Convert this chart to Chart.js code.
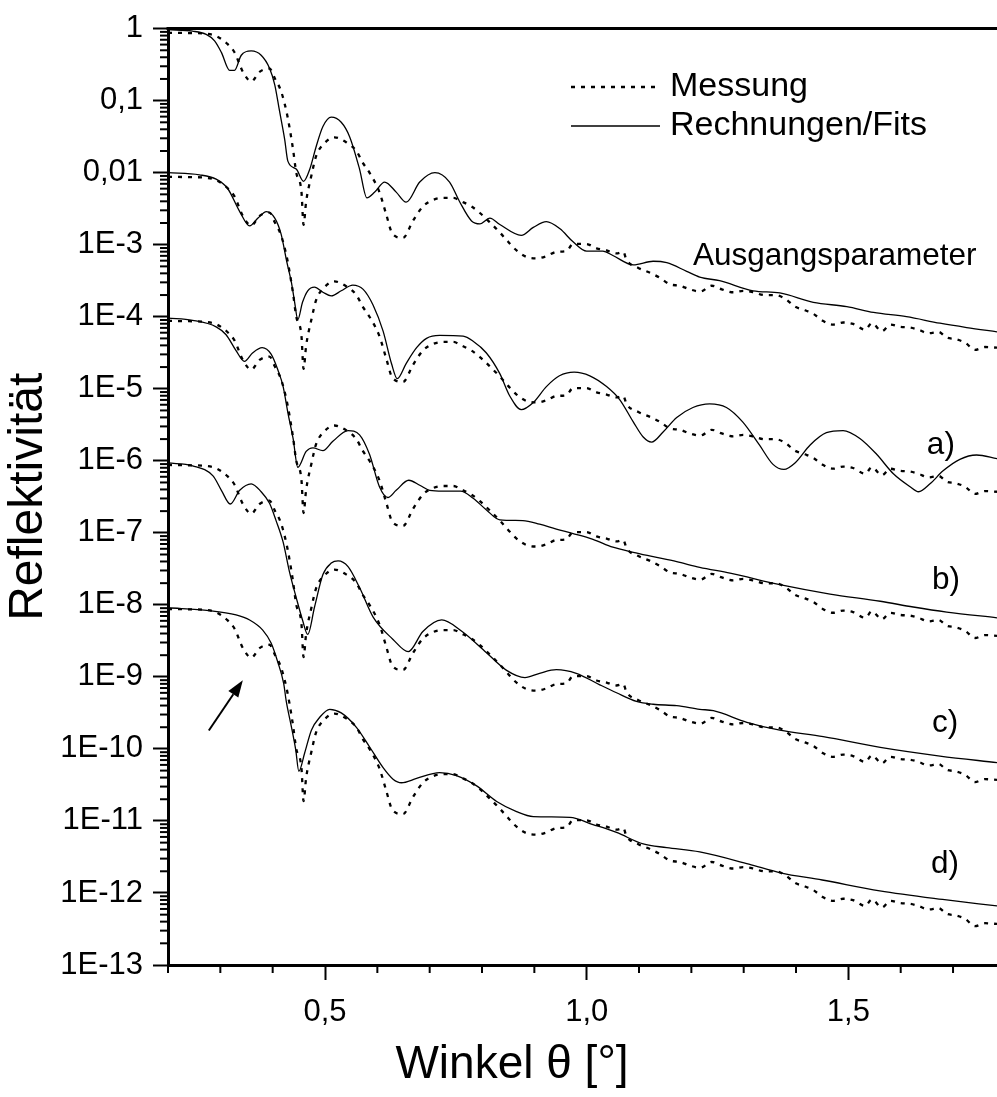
<!DOCTYPE html>
<html><head><meta charset="utf-8">
<script src="https://cdn.jsdelivr.net/npm/chart.js@4/dist/chart.umd.min.js"></script>
<style>html,body{margin:0;padding:0;background:#fff}canvas{display:block}</style>
</head><body>
<canvas id="c" width="997" height="1097"></canvas>
<script>
const FONT = "'Liberation Sans', Arial, Helvetica, sans-serif";

// ---- axis ticks ----
const xTickValues = [0.2,0.3,0.4,0.5,0.6,0.7,0.8,0.9,1.0,1.1,1.2,1.3,1.4,1.5,1.6,1.7];
const xMajorValues = [0.5,1.0,1.5];
const xMajorLabels = ['0,5','1,0','1,5'];
const yDecades = [1,1e-1,1e-2,1e-3,1e-4,1e-5,1e-6,1e-7,1e-8,1e-9,1e-10,1e-11,1e-12,1e-13];
const yTickLabels = ['1','0,1','0,01','1E-3','1E-4','1E-5','1E-6','1E-7','1E-8','1E-9','1E-10','1E-11','1E-12','1E-13'];
const xTitle = 'Winkel θ [°]';
const yTitle = 'Reflektivität';

// ---- Messung (measured data), log10 of reflectivity, top curve ----
const measTheta = [0.200,0.240,0.267,0.292,0.314,0.327,0.343,0.359,0.375,0.394,0.404,0.416,0.426,0.432,0.439,0.445,0.455,0.459,0.464,0.474,0.483,0.499,0.518,0.541,0.560,0.572,0.585,0.604,0.617,0.629,0.649,0.668,0.687,0.706,0.725,0.745,0.761,0.780,0.796,0.815,0.834,0.850,0.866,0.885,0.904,0.923,0.942,0.961,0.974,0.999,1.019,1.038,1.057,1.070,1.076,1.098,1.121,1.140,1.159,1.178,1.197,1.217,1.239,1.258,1.280,1.299,1.318,1.340,1.360,1.379,1.398,1.417,1.433,1.452,1.471,1.490,1.509,1.532,1.545,1.564,1.580,1.599,1.618,1.634,1.653,1.672,1.688,1.704,1.723,1.742,1.761,1.784];
const measLog = [-0.058,-0.062,-0.068,-0.104,-0.216,-0.329,-0.599,-0.734,-0.600,-0.554,-0.689,-0.869,-1.139,-1.365,-1.680,-1.996,-2.266,-2.725,-2.400,-2.040,-1.770,-1.590,-1.510,-1.580,-1.700,-1.860,-2.000,-2.270,-2.580,-2.850,-2.905,-2.670,-2.470,-2.380,-2.350,-2.350,-2.400,-2.470,-2.560,-2.690,-2.830,-2.960,-3.080,-3.170,-3.190,-3.160,-3.100,-3.090,-2.990,-2.990,-3.050,-3.080,-3.120,-3.100,-3.210,-3.320,-3.390,-3.460,-3.550,-3.570,-3.620,-3.650,-3.570,-3.620,-3.660,-3.640,-3.660,-3.700,-3.700,-3.750,-3.860,-3.910,-3.960,-4.060,-4.110,-4.080,-4.100,-4.180,-4.090,-4.200,-4.110,-4.140,-4.150,-4.180,-4.230,-4.210,-4.290,-4.310,-4.360,-4.460,-4.420,-4.430];
// vertical shift factors of the five curve pairs
const pairOffsets = [1, 1e-2, 1e-4, 1e-6, 1e-8];

// ---- Rechnungen/Fits, log10 of reflectivity ----
const fitAusgTheta = [0.200,0.247,0.273,0.289,0.302,0.318,0.327,0.340,0.359,0.378,0.394,0.404,0.413,0.423,0.429,0.445,0.459,0.471,0.483,0.496,0.512,0.531,0.547,0.566,0.580,0.595,0.614,0.636,0.655,0.681,0.710,0.738,0.757,0.780,0.796,0.815,0.834,0.875,0.898,0.923,0.949,0.974,1.000,1.031,1.050,1.089,1.127,1.153,1.191,1.216,1.254,1.318,1.369,1.433,1.497,1.548,1.611,1.675,1.726,1.784];
const fitAusgLog = [-0.014,-0.036,-0.081,-0.170,-0.330,-0.580,-0.580,-0.370,-0.310,-0.370,-0.550,-0.780,-1.140,-1.540,-1.840,-1.950,-2.120,-1.950,-1.640,-1.360,-1.230,-1.300,-1.500,-1.950,-2.350,-2.270,-2.130,-2.270,-2.410,-2.130,-2.000,-2.130,-2.400,-2.670,-2.710,-2.630,-2.720,-2.870,-2.760,-2.680,-2.780,-2.960,-3.090,-3.090,-3.150,-3.280,-3.230,-3.250,-3.370,-3.450,-3.500,-3.640,-3.670,-3.800,-3.860,-3.940,-4.000,-4.090,-4.150,-4.210];

const fitATheta = [0.200,0.260,0.292,0.314,0.337,0.356,0.372,0.388,0.404,0.416,0.427,0.436,0.442,0.448,0.457,0.467,0.480,0.496,0.512,0.531,0.553,0.573,0.592,0.611,0.627,0.638,0.655,0.675,0.694,0.719,0.764,0.783,0.808,0.834,0.853,0.875,0.898,0.923,0.948,0.976,1.006,1.038,1.063,1.089,1.108,1.124,1.146,1.172,1.203,1.235,1.267,1.298,1.330,1.356,1.377,1.398,1.427,1.458,1.490,1.522,1.554,1.586,1.618,1.634,1.656,1.681,1.713,1.745,1.784];
const fitALog = [-2.000,-2.030,-2.090,-2.220,-2.540,-2.740,-2.630,-2.540,-2.630,-2.850,-3.240,-3.530,-3.800,-4.040,-3.800,-3.640,-3.590,-3.660,-3.710,-3.640,-3.560,-3.620,-3.840,-4.200,-4.650,-4.860,-4.650,-4.430,-4.300,-4.260,-4.270,-4.340,-4.500,-4.790,-5.100,-5.290,-5.190,-4.970,-4.820,-4.770,-4.820,-4.970,-5.150,-5.460,-5.670,-5.740,-5.600,-5.400,-5.260,-5.210,-5.260,-5.460,-5.780,-6.050,-6.120,-6.030,-5.780,-5.610,-5.580,-5.690,-5.910,-6.180,-6.360,-6.430,-6.320,-6.140,-5.980,-5.920,-5.970];

const fitBTheta = [0.200,0.247,0.292,0.311,0.330,0.346,0.362,0.380,0.397,0.410,0.420,0.429,0.439,0.448,0.464,0.477,0.496,0.515,0.544,0.566,0.585,0.604,0.620,0.636,0.660,0.681,0.700,0.725,0.759,0.783,0.808,0.834,0.878,0.910,0.942,0.974,1.012,1.050,1.089,1.127,1.172,1.216,1.274,1.369,1.465,1.561,1.624,1.688,1.784];
const fitBLog = [-4.020,-4.050,-4.140,-4.250,-4.470,-4.620,-4.500,-4.430,-4.520,-4.740,-4.970,-5.330,-5.690,-6.090,-5.870,-5.820,-5.860,-5.730,-5.580,-5.640,-5.910,-6.360,-6.510,-6.410,-6.270,-6.340,-6.410,-6.420,-6.420,-6.520,-6.680,-6.820,-6.830,-6.880,-6.950,-7.010,-7.090,-7.200,-7.270,-7.330,-7.400,-7.480,-7.560,-7.720,-7.850,-7.950,-8.030,-8.100,-8.180];

const fitCTheta = [0.200,0.247,0.286,0.302,0.319,0.337,0.359,0.378,0.394,0.406,0.420,0.432,0.445,0.457,0.467,0.480,0.496,0.512,0.525,0.544,0.566,0.592,0.630,0.659,0.687,0.723,0.760,0.808,0.847,0.882,0.910,0.942,0.980,1.025,1.057,1.095,1.127,1.172,1.216,1.242,1.306,1.369,1.452,1.561,1.675,1.784];
const fitCLog = [-6.030,-6.070,-6.210,-6.410,-6.600,-6.410,-6.320,-6.430,-6.590,-6.820,-7.130,-7.540,-7.900,-8.210,-8.410,-8.030,-7.580,-7.420,-7.390,-7.470,-7.760,-8.170,-8.480,-8.650,-8.370,-8.210,-8.360,-8.660,-8.910,-9.010,-8.950,-8.900,-8.950,-9.110,-9.220,-9.340,-9.380,-9.400,-9.450,-9.470,-9.630,-9.740,-9.830,-9.980,-10.100,-10.190];

const fitDTheta = [0.200,0.279,0.330,0.356,0.381,0.397,0.410,0.421,0.426,0.436,0.444,0.450,0.461,0.474,0.490,0.509,0.531,0.560,0.585,0.611,0.630,0.646,0.675,0.719,0.751,0.789,0.828,0.866,0.898,0.968,1.012,1.057,1.108,1.153,1.216,1.310,1.370,1.450,1.560,1.680,1.784];
const fitDLog = [-8.040,-8.080,-8.140,-8.210,-8.350,-8.530,-8.800,-9.090,-9.340,-9.700,-10.010,-10.310,-10.060,-9.740,-9.560,-9.450,-9.500,-9.700,-9.970,-10.260,-10.420,-10.470,-10.410,-10.330,-10.370,-10.510,-10.730,-10.870,-10.940,-10.950,-11.050,-11.160,-11.320,-11.370,-11.430,-11.600,-11.720,-11.820,-11.970,-12.090,-12.180];

// ---- text annotations (data coordinates) ----
const annoText  = ['Ausgangsparameter','a)','b)','c)','d)'];
const annoTheta = [1.203, 1.650, 1.660, 1.660, 1.658];
const annoValue = [7.0e-4, 1.65e-6, 2.2e-8, 2.3e-10, 2.5e-12];
const arrowFrom = {x:0.278, y:1.8e-10};
const arrowTo   = {x:0.343, y:9.0e-10};

const legendLabels = ['Messung','Rechnungen/Fits'];

// ---------------------------------------------------------------
const toPts = (xs, logs, f=1) => xs.map((x,i)=>({x, y: Math.pow(10, logs[i]) * f}));
const fits = [[fitAusgTheta,fitAusgLog],[fitATheta,fitALog],[fitBTheta,fitBLog],[fitCTheta,fitCLog],[fitDTheta,fitDLog]];

const DOT = [4,6];
const datasets = [];
pairOffsets.forEach((off,i)=>{
  datasets.push({label: legendLabels[0], data: toPts(measTheta, measLog, off), borderColor:'#000', borderWidth:2.3, borderDash:DOT, pointRadius:0, fill:false, cubicInterpolationMode:'monotone'});
  datasets.push({label: legendLabels[1], data: toPts(fits[i][0], fits[i][1]), borderColor:'#000', borderWidth:1.3, pointRadius:0, fill:false, cubicInterpolationMode:'monotone'});
});

const yTickValues = [];
yDecades.forEach(d=>{ yTickValues.push(d); if (d < 1) for (let k=2;k<=9;k++) yTickValues.push(k*d); });
yTickValues.sort((a,b)=>a-b);

const isDecade = v => { const l = Math.log10(v); return Math.abs(l - Math.round(l)) < 1e-6; };
const isXMajor = v => xMajorValues.some(m => Math.abs(m - v) < 1e-6);

const decor = {
  id:'decor',
  afterDraw(chart){
    const {ctx, chartArea:ca, scales:{x,y}} = chart;
    ctx.save();
    ctx.strokeStyle = '#000'; ctx.fillStyle = '#000';
    // top frame line
    ctx.lineWidth = 3;
    ctx.beginPath(); ctx.moveTo(ca.left-1.5, ca.top); ctx.lineTo(ca.right, ca.top); ctx.stroke();
    // minor ticks
    ctx.lineWidth = 2;
    x.ticks.forEach(t=>{ if(!isXMajor(t.value)){ const px = x.getPixelForValue(t.value);
      ctx.beginPath(); ctx.moveTo(px, ca.bottom); ctx.lineTo(px, ca.bottom+8); ctx.stroke(); }});
    y.ticks.forEach(t=>{ if(!isDecade(t.value)){ const py = y.getPixelForValue(t.value);
      ctx.beginPath(); ctx.moveTo(ca.left-8, py); ctx.lineTo(ca.left, py); ctx.stroke(); }});
    // x axis title
    ctx.font = '46px ' + FONT; ctx.textAlign = 'center'; ctx.textBaseline = 'middle';
    ctx.fillText(xTitle, 512, ca.bottom + 100);
    // legend
    ctx.font = '34px ' + FONT; ctx.textBaseline = 'middle'; ctx.textAlign = 'left';
    ctx.lineWidth = 2.3; ctx.setLineDash(DOT);
    ctx.beginPath(); ctx.moveTo(571, 87); ctx.lineTo(659, 87); ctx.stroke();
    ctx.setLineDash([]); ctx.lineWidth = 1.3;
    ctx.beginPath(); ctx.moveTo(571, 126); ctx.lineTo(660, 126); ctx.stroke();
    ctx.fillText(legendLabels[0], 670, 87);
    ctx.fillText(legendLabels[1], 670, 126);
    // annotations
    ctx.font = '31.5px ' + FONT;
    annoText.forEach((t,i)=>{
      ctx.fillText(t, x.getPixelForValue(annoTheta[i]), y.getPixelForValue(annoValue[i]));
    });
    // arrow
    const x0 = x.getPixelForValue(arrowFrom.x), y0 = y.getPixelForValue(arrowFrom.y);
    const x1 = x.getPixelForValue(arrowTo.x),   y1 = y.getPixelForValue(arrowTo.y);
    const ang = Math.atan2(y1-y0, x1-x0), L = 17, W = 6;
    ctx.lineWidth = 2;
    ctx.beginPath(); ctx.moveTo(x0,y0); ctx.lineTo(x1 - L*Math.cos(ang), y1 - L*Math.sin(ang)); ctx.stroke();
    ctx.beginPath();
    ctx.moveTo(x1,y1);
    ctx.lineTo(x1 - L*Math.cos(ang) + W*Math.sin(ang), y1 - L*Math.sin(ang) - W*Math.cos(ang));
    ctx.lineTo(x1 - L*Math.cos(ang) - W*Math.sin(ang), y1 - L*Math.sin(ang) + W*Math.cos(ang));
    ctx.closePath(); ctx.fill();
    ctx.restore();
  }
};

new Chart(document.getElementById('c'), {
  type:'line',
  data:{datasets},
  options:{
    responsive:false, animation:false, devicePixelRatio:1,
    layout:{padding:{top:25,left:0,right:0,bottom:0}},
    plugins:{legend:{display:false}, tooltip:{enabled:false}},
    elements:{line:{tension:0.4}},
    scales:{
      x:{
        type:'linear', position:'bottom', min:0.2, max:1.784,
        afterFit(s){ s.height = 132; },
        afterBuildTicks(s){ s.ticks = xTickValues.map(v=>({value:v})); },
        ticks:{autoSkip:false, maxRotation:0, padding:14, color:'#000', font:{family:FONT,size:31},
          callback(v){ const i = xMajorValues.findIndex(m=>Math.abs(m-v)<1e-6); return i>=0 ? xMajorLabels[i] : ''; }},
        grid:{drawOnChartArea:false, drawTicks:true, tickLength:15, tickWidth:2,
          tickColor:(c)=> (c.tick && isXMajor(c.tick.value)) ? '#000' : 'rgba(0,0,0,0)'},
        border:{display:true, width:3, color:'#000'},
        title:{display:false}
      },
      y:{
        type:'logarithmic', position:'left', min:1e-13, max:1,
        afterFit(s){ s.width = 168; },
        afterBuildTicks(s){ s.ticks = yTickValues.map(v=>({value:v})); },
        ticks:{autoSkip:false, padding:10, color:'#000', font:{family:FONT,size:31},
          callback(v){ const i = yDecades.findIndex(d=>Math.abs(d-v)/d<1e-6); return i>=0 ? yTickLabels[i] : ''; }},
        grid:{drawOnChartArea:false, drawTicks:true, tickLength:15, tickWidth:2,
          tickColor:(c)=> (c.tick && isDecade(c.tick.value)) ? '#000' : 'rgba(0,0,0,0)'},
        border:{display:true, width:3, color:'#000'},
        title:{display:true, text:yTitle, color:'#000', font:{family:FONT,size:48}, padding:{top:0,bottom:0}}
      }
    }
  },
  plugins:[decor]
});
</script>
</body></html>
